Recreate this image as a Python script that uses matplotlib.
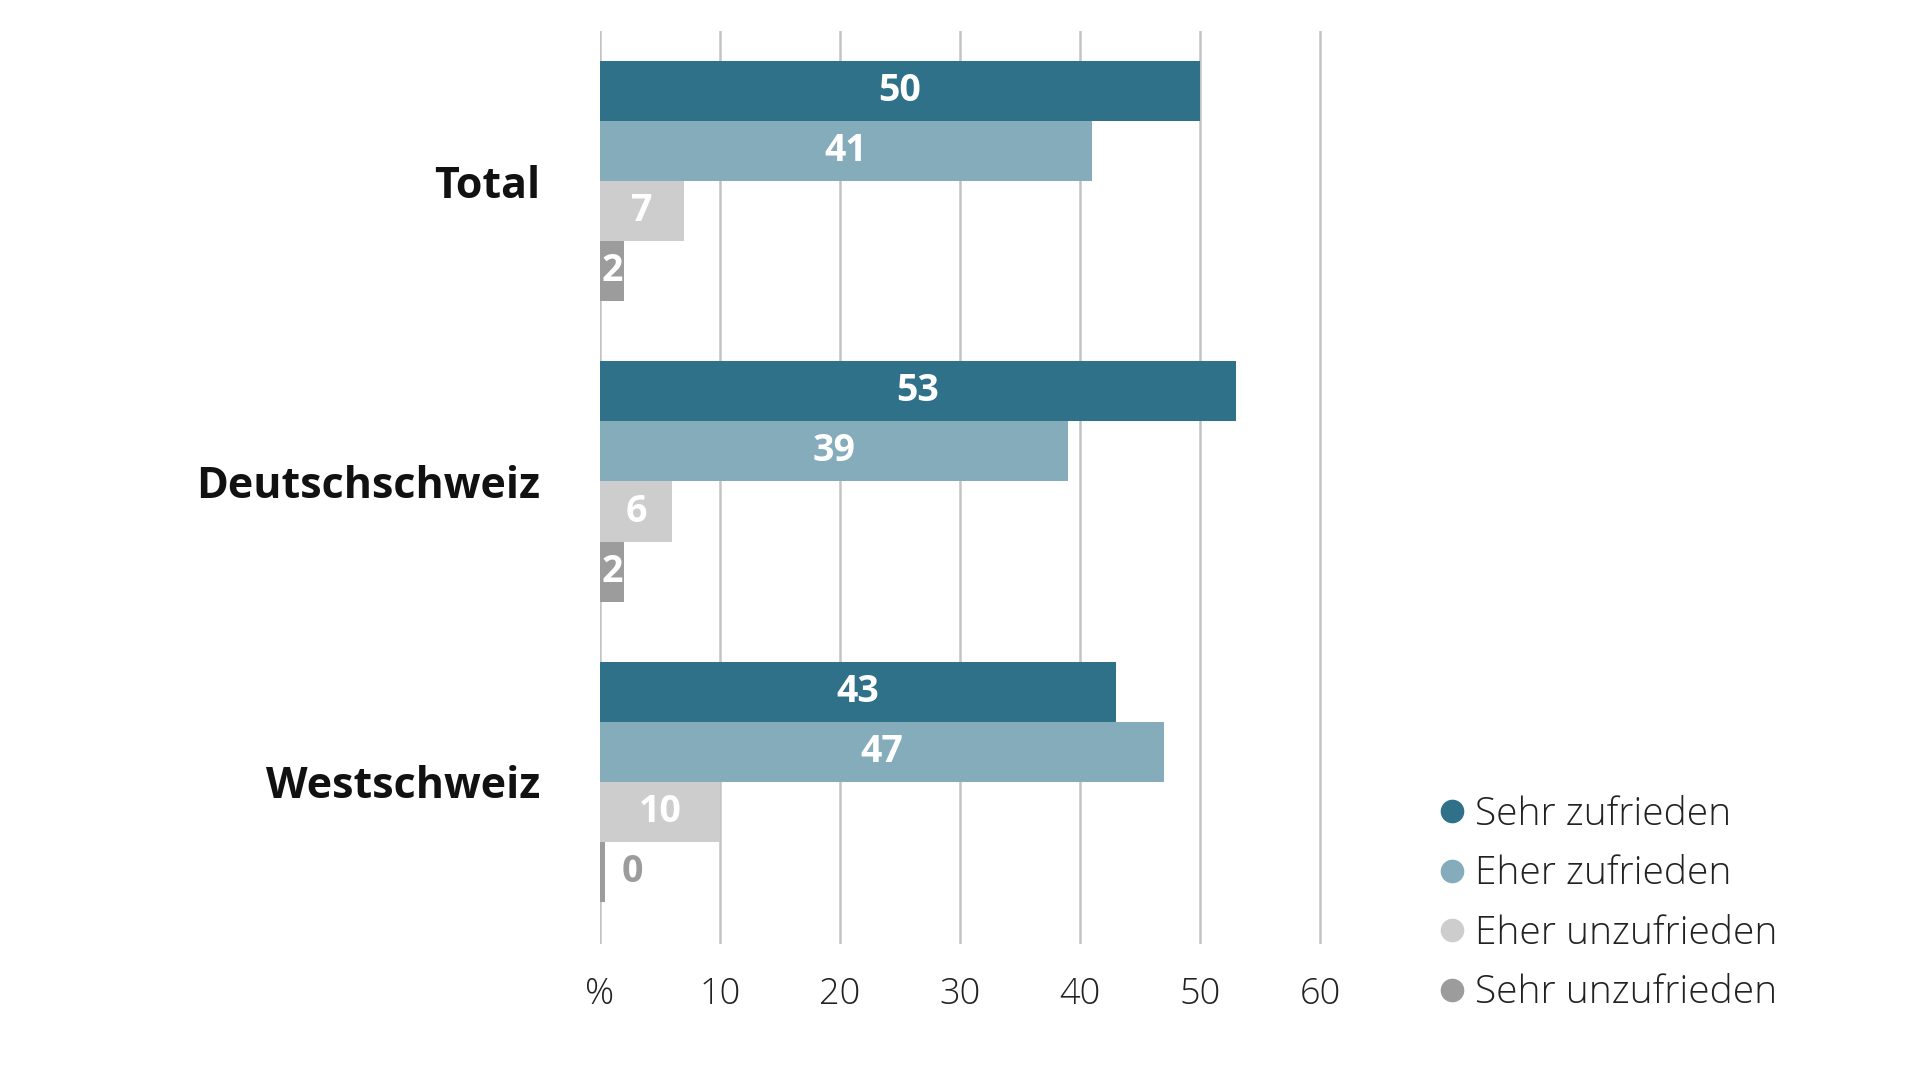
import matplotlib
matplotlib.use("Agg")
import matplotlib.pyplot as plt
from matplotlib.lines import Line2D
import numpy as np

plt.rcParams['font.family'] = ['Open Sans', 'DejaVu Sans']

regions = ["Total", "Deutschschweiz", "Westschweiz"]
series = ["Sehr zufrieden", "Eher zufrieden", "Eher unzufrieden", "Sehr unzufrieden"]
values = {
    "Sehr zufrieden": [50, 53, 43],
    "Eher zufrieden": [41, 39, 47],
    "Eher unzufrieden": [7, 6, 10],
    "Sehr unzufrieden": [2, 2, 0],
}
colors = ["#2f7189", "#84acba", "#cdcdcd", "#9c9c9c"]
ticks = [0, 10, 20, 30, 40, 50, 60]
tick_labels = ["%", "10", "20", "30", "40", "50", "60"]

fig = plt.figure(figsize=(19.2, 10.8), dpi=100)
ax = fig.add_axes([600 / 1920, 1 - 944 / 1080, 732 / 1920, 913 / 1080])

y = np.arange(len(regions))
h = 0.2
offsets = [-0.3, -0.1, 0.1, 0.3]

for s, c, off in zip(series, colors, offsets):
    vals = values[s]
    ax.barh(y + off, [max(v, 0.4) for v in vals], height=h, color=c, zorder=3)
    for yi, v in zip(y, vals):
        if v == 0:
            ax.text(2.7, yi + off, str(v), ha="center", va="center",
                    color="#9c9c9c", fontsize=27, fontweight="bold", zorder=4)
        else:
            ax.text(v / 2, yi + off, str(v), ha="center", va="center",
                    color="white", fontsize=27, fontweight="bold", zorder=4)

ax.set_xlim(0, 61)
ax.set_ylim(2.54, -0.5)
ax.set_xticks(ticks)
ax.set_xticklabels(tick_labels, fontsize=26, color="#222222", fontweight="light")
ax.set_yticks(y)
ax.set_yticklabels(regions, fontsize=31, fontweight="bold", color="#111111")
ax.tick_params(axis="both", length=0)
ax.tick_params(axis="x", pad=23)
ax.tick_params(axis="y", pad=43)
for sp in ax.spines.values():
    sp.set_visible(False)
for t in ticks:
    ax.axvline(t, color="#c4c4c4", linewidth=1.8, zorder=1)

handles = [Line2D([], [], marker="o", linestyle="", markersize=16, color=c) for c in colors]
fig.legend(handles, series, loc="lower left", bbox_to_anchor=(1417 / 1920, 52 / 1080),
           frameon=False, handletextpad=0.1, labelspacing=0.54,
           handlelength=1.0, borderaxespad=0, labelcolor="#222222",
           prop={"size": 28, "weight": "light"})

fig.savefig("out.png", dpi=100, facecolor="white")
